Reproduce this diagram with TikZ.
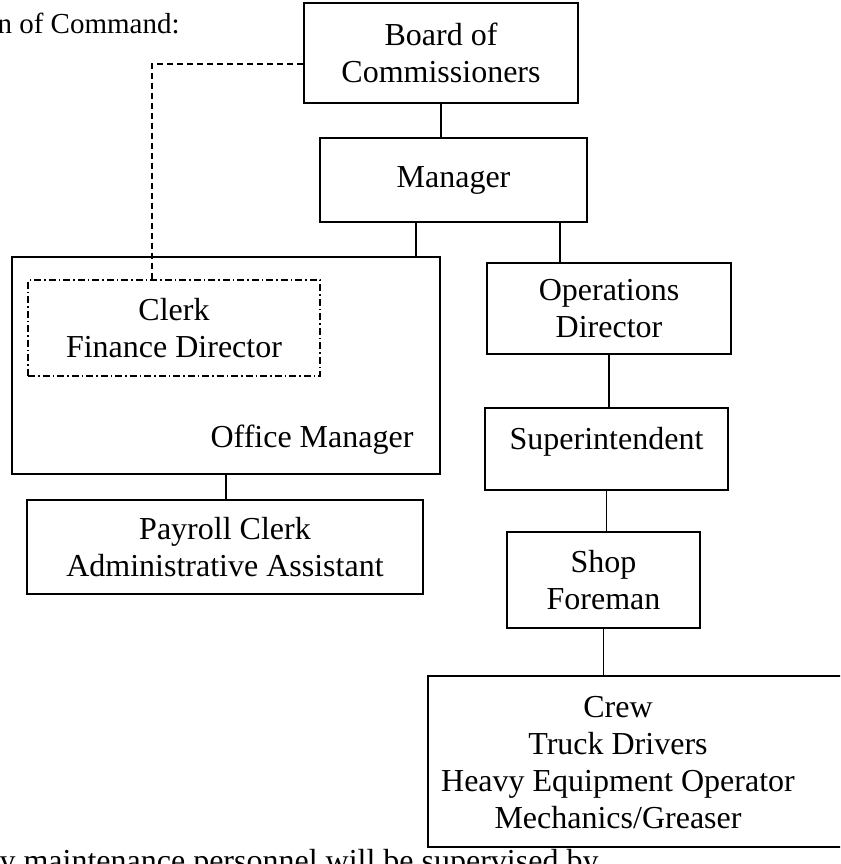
\documentclass[tikz,border=0pt]{standalone}
\usepackage{fontspec}
\setmainfont{Liberation Serif}
\begin{document}
\begin{tikzpicture}[x=1pt,y=-1pt,
  every node/.style={font=\fontsize{32}{37}\selectfont},
  box/.style={draw,line width=1.3pt,align=center,inner sep=0pt},
  link/.style={line width=1.3pt},
  dashline/.style={line width=1.3pt,dash pattern=on 6pt off 4pt},
  dashdotbox/.style={box,dash pattern=on 7pt off 3pt on 1.5pt off 3pt}]

\useasboundingbox (0,0) rectangle (840,864);
\clip (0,0) rectangle (840,864);

%Title
\node[anchor=base west,font=\fontsize{29}{34}\selectfont] (title) at (-6,34) {n of Command:};

%Top of the chain
\node[box,minimum width=274pt,minimum height=100pt] (board) at (441,53) {Board of\\Commissioners};
\node[box,minimum width=267pt,minimum height=84pt] (mgr) at (453.5,180) {Manager};

%Office side
\node[box,minimum width=428pt,minimum height=217pt] (om) at (226,365.5) {};
\node[anchor=base east] (omtext) at (417,447) {Office Manager};
\node[dashdotbox,minimum width=292pt,minimum height=96pt] (clerk) at (174,328) {Clerk\\Finance Director};
\node[box,minimum width=396pt,minimum height=94pt] (pay) at (225,547) {Payroll Clerk\\Administrative Assistant};

%Operations side
\node[box,minimum width=244pt,minimum height=91pt] (ops) at (609,308.5) {Operations\\Director};
\node[box,minimum width=243pt,minimum height=82pt,text depth=22pt] (sup) at (606.5,449) {Superintendent};
\node[box,minimum width=193pt,minimum height=96pt] (shop) at (603.5,580) {Shop\\Foreman};
% crew box runs off the right edge
\node[box,minimum width=424pt,minimum height=171pt] (crew) at (640,761.5) {};
\node[align=center] (crewtext) at (618,763) {Crew\\Truck Drivers\\Heavy Equipment Operator\\Mechanics/Greaser};

%Footnote (cut off)
\node[anchor=base west] (note) at (-4,871) {y maintenance personnel will be supervised by};

%Connectors
\coordinate (mleft) at (416,0);
\coordinate (mright) at (560,0);
\coordinate (dleft) at (152,0);
\draw[link] (board.south) -- (board.south |- mgr.north);
\draw[link] (mgr.south -| mleft) -- (om.north -| mleft);
\draw[link] (mgr.south -| mright) -- (ops.north -| mright);
\draw[link] (om.south) -- (om.south |- pay.north);
\draw[link] (ops.south) -- (ops.south |- sup.north);
\draw[link] (sup.south) -- (sup.south |- shop.north);
\draw[link] (shop.south) -- (shop.south |- crew.north);
\draw[dashline] ([yshift=-11pt]board.west) -| (clerk.north -| dleft);

\end{tikzpicture}
\end{document}
